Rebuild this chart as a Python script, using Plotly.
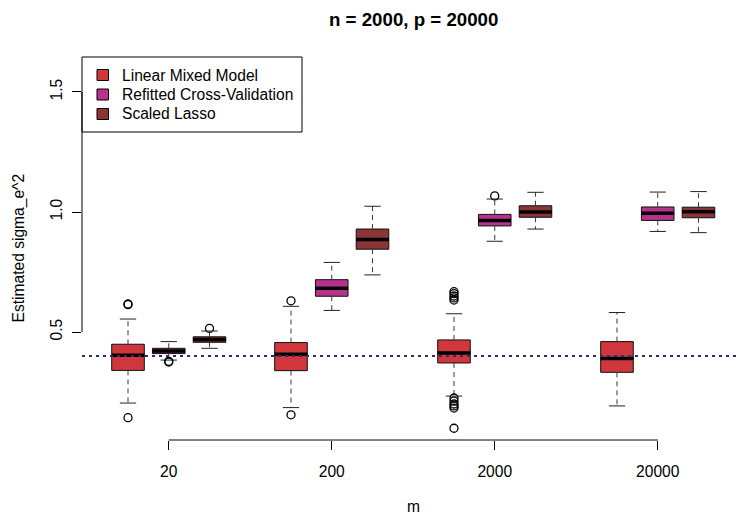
import plotly.graph_objects as go

# ---- data ----
categories = ["20", "200", "2000", "20000"]          # m
series_names = ["Linear Mixed Model", "Refitted Cross-Validation", "Scaled Lasso"]
series_colors = ["#D0373D", "#B5338E", "#8C3536"]

lmm_lo  = [0.204, 0.185, 0.233, 0.192]
lmm_q1  = [0.340, 0.339, 0.371, 0.332]
lmm_med = [0.403, 0.407, 0.412, 0.390]
lmm_q3  = [0.449, 0.456, 0.467, 0.460]
lmm_hi  = [0.554, 0.607, 0.576, 0.581]
lmm_out = [[0.617, 0.614, 0.143], [0.630, 0.155],
           [0.633, 0.642, 0.650, 0.660, 0.668, 0.225, 0.212, 0.200, 0.192, 0.183, 0.099], []]

rcv_lo  = [0.383, 0.590, 0.878, 0.919]
rcv_q1  = [0.410, 0.649, 0.942, 0.965]
rcv_med = [0.421, 0.682, 0.965, 0.995]
rcv_q3  = [0.432, 0.718, 0.990, 1.021]
rcv_hi  = [0.460, 0.790, 1.054, 1.083]
rcv_out = [[0.375, 0.378], [], [1.067], []]

sl_lo  = [0.432, 0.738, 0.929, 0.914]
sl_q1  = [0.457, 0.845, 0.978, 0.976]
sl_med = [0.469, 0.885, 1.000, 1.001]
sl_q3  = [0.480, 0.929, 1.026, 1.020]
sl_hi  = [0.504, 1.024, 1.082, 1.085]
sl_out = [[0.515], [], [], []]

true_value = 0.4
y_tickvals = [0.5, 1.0, 1.5]
y_ticktext = ["0.5", "1.0", "1.5"]

# ---- layout of positions (R boxplot 'at') ----
group_centers = [2, 6, 10, 14]
offsets = [-1, 0, 1]
box_width = 0.8
cap_half = 0.2

FONT = "Liberation Sans, Arial, Helvetica, sans-serif"
FS = 15.6
W, H = 738, 514
ML, MR, MT, MB = 82, 0, 57, 74
PW, PH = W - ML - MR, H - MT - MB

fig = go.Figure()

series = [
    (lmm_lo, lmm_q1, lmm_med, lmm_q3, lmm_hi, lmm_out),
    (rcv_lo, rcv_q1, rcv_med, rcv_q3, rcv_hi, rcv_out),
    (sl_lo, sl_q1, sl_med, sl_q3, sl_hi, sl_out),
]

for s, (lo, q1, med, q3, hi, out) in enumerate(series):
    xs = [c + offsets[s] for c in group_centers]
    # whiskers (dashed)
    wx, wy = [], []
    for i, x in enumerate(xs):
        wx += [x, x, None, x, x, None]
        wy += [q3[i], hi[i], None, q1[i], lo[i], None]
    fig.add_trace(go.Scatter(x=wx, y=wy, mode="lines", showlegend=False, hoverinfo="skip",
                             line=dict(color="#3a3a3a", width=1, dash="5px,4px")))
    # staples
    cx, cy = [], []
    for i, x in enumerate(xs):
        cx += [x - cap_half, x + cap_half, None, x - cap_half, x + cap_half, None]
        cy += [hi[i], hi[i], None, lo[i], lo[i], None]
    fig.add_trace(go.Scatter(x=cx, y=cy, mode="lines", showlegend=False, hoverinfo="skip",
                             line=dict(color="#222222", width=1)))
    # box
    fig.add_trace(go.Box(x=xs, q1=q1, median=med, q3=q3, lowerfence=q1, upperfence=q3,
                         width=box_width, whiskerwidth=0, fillcolor=series_colors[s],
                         line=dict(color="#111111", width=1), showlegend=False,
                         hoverinfo="skip"))
    # medians
    mx, my = [], []
    for i, x in enumerate(xs):
        mx += [x - box_width / 2, x + box_width / 2, None]
        my += [med[i], med[i], None]
    fig.add_trace(go.Scatter(x=mx, y=my, mode="lines", showlegend=False, hoverinfo="skip",
                             line=dict(color="black", width=3.5)))
    # outliers
    ox, oy = [], []
    for i, x in enumerate(xs):
        ox += [x] * len(out[i])
        oy += out[i]
    fig.add_trace(go.Scatter(x=ox, y=oy, mode="markers", showlegend=False, hoverinfo="skip",
                             marker=dict(symbol="circle-open", size=8, color="black",
                                         line=dict(width=1.3, color="black"))))

# true value reference line
fig.add_hline(y=true_value, line=dict(color="#2b2f6e", width=2, dash="3px,4px"))

# ---- R-style legend box (top-left, inset 0) ----
def px_x(p):
    return (p - ML) / PW

def px_y(p):
    return 1 - (p - MT) / PH

fig.add_shape(type="rect", xref="paper", yref="paper", x0=px_x(82), x1=px_x(302),
              y0=px_y(132), y1=px_y(57), line=dict(color="black", width=1),
              fillcolor="white", layer="above")
item_y = [75, 94.5, 114]
for name, col, yy in zip(series_names, series_colors, item_y):
    fig.add_shape(type="rect", xref="paper", yref="paper", x0=px_x(97), x1=px_x(108.5),
                  y0=px_y(yy + 5.5), y1=px_y(yy - 5.5), line=dict(color="black", width=1),
                  fillcolor=col, layer="above")
    fig.add_annotation(text=name, xref="paper", yref="paper", x=px_x(120), y=px_y(yy),
                       showarrow=False, xanchor="left", yanchor="middle",
                       font=dict(size=FS, color="black", family=FONT))

# axis lines only spanning tick range (R style)
fig.add_shape(type="line", xref="x", yref="paper", x0=group_centers[0], x1=group_centers[-1],
              y0=0, y1=0, line=dict(color="black", width=1))
fig.add_shape(type="line", xref="paper", yref="y", x0=0, x1=0,
              y0=y_tickvals[0], y1=y_tickvals[-1], line=dict(color="black", width=1))

mid_x = (group_centers[0] + group_centers[-1]) / 2

fig.add_annotation(text="<b>n = 2000, p = 20000</b>", xref="x", yref="paper", x=mid_x, y=1,
                   yshift=38, showarrow=False, font=dict(size=18.7, color="black", family=FONT),
                   yanchor="middle", xanchor="center")
fig.add_annotation(text="m", xref="x", yref="paper", x=mid_x, y=0, yshift=-57,
                   showarrow=False, font=dict(size=FS, color="black", family=FONT),
                   yanchor="top", xanchor="center", borderpad=0)
fig.add_annotation(text="Estimated sigma_e^2", xref="paper", yref="paper", x=0, y=0.5,
                   xshift=-64, textangle=-90, showarrow=False,
                   font=dict(size=FS, color="black", family=FONT),
                   xanchor="center", yanchor="middle")

fig.update_layout(
    width=W, height=H,
    margin=dict(l=ML, r=MR, t=MT, b=MB, autoexpand=False),
    paper_bgcolor="white", plot_bgcolor="white",
    font=dict(family=FONT, size=FS, color="black"),
    boxmode="overlay",
    showlegend=False,
    xaxis=dict(range=[-0.129, 15.97], tickvals=group_centers, ticktext=categories,
               ticks="outside", ticklen=9, tickcolor="black", showgrid=False, zeroline=False,
               showline=False, automargin=False, tickfont=dict(size=FS),
               ticklabelstandoff=8),
    yaxis=dict(range=[0.05, 1.6458], tickvals=y_tickvals, ticktext=y_ticktext, tickangle=-90,
               ticks="outside", ticklen=9, tickcolor="black", showgrid=False, zeroline=False,
               showline=False, automargin=False, tickfont=dict(size=FS),
               ticklabelstandoff=4),
)

fig.write_html("out.html", config={"displayModeBar": False},
               post_script="document.body.style.margin='0';document.body.style.padding='0';")
